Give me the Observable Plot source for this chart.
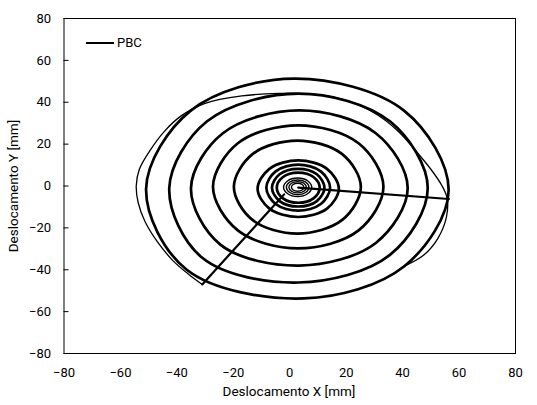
<!DOCTYPE html>
<html>
<head>
<meta charset="utf-8">
<script src="https://cdn.jsdelivr.net/npm/d3@7"></script>
<script src="https://cdn.jsdelivr.net/npm/@observablehq/plot@0.6"></script>
<style>
  body { margin: 0; background: #fff; }
  #wrap { position: relative; width: 537px; height: 405px; font-family: Roboto, "Open Sans", sans-serif; color: #000; }
  #wrap svg { position: absolute; left: 0; top: 0; }
  .lbl { position: absolute; font-size: 13.5px; white-space: nowrap; line-height: 1; }
  #xlabel { left: 289px; top: 385px; transform: translateX(-50%); }
  #ylabel { left: 14px; top: 186px; transform: translate(-50%, -50%) rotate(-90deg); }
  #legend { position: absolute; left: 86px; top: 35px; display: flex; align-items: center; font-size: 13px; }
  #legend .sw { width: 28px; height: 0; border-top: 2px solid #000; margin-right: 3px; }
</style>
</head>
<body>
<div id="wrap">
  <div id="legend"><span class="sw"></span><span>PBC</span></div>
  <div class="lbl" id="xlabel">Deslocamento X [mm]</div>
  <div class="lbl" id="ylabel">Deslocamento Y [mm]</div>
</div>
<script>
// ---- data (mm) ----
const xTicks = [-80, -60, -40, -20, 0, 20, 40, 60, 80];
const yTicks = [-80, -60, -40, -20, 0, 20, 40, 60, 80];
const seriesName = "PBC";

// thick orbit rings (several cycles at each amplitude), points E, NE, N, NW, W, SW, S, SE
const ringA = [[56.3,-2],[40.6,35.9],[1.5,51.3],[-35.2,35.9],[-50.9,-1.2],[-36.6,-39.9],[5,-53.7],[40.6,-38.3]];
const ringB = [[48.9,-1],[35.5,30.9],[3.1,44.1],[-29.3,30.9],[-42.7,-1],[-31,-34.3],[3.1,-46.1],[35.5,-32.9]];
const ringC = [[41.8,-1],[30.5,25.2],[3.4,36.1],[-23.7,25.2],[-35,-1],[-24.6,-28],[3.4,-38],[30.5,-27.2]];
const ringD = [[33.2,-0.4],[24.4,20.4],[3,29],[-18.4,20.4],[-27.2,-0.4],[-18.4,-21.2],[3,-29.8],[24.4,-21.2]];
const ringE = [[25.2,-0.5],[18.6,15.2],[2.7,21.7],[-13.2,15.2],[-19.8,-0.5],[-13.2,-16.2],[2.7,-22.7],[18.6,-16.2]];
const ringF = [[17.4,-1.3],[13.2,8.2],[3,12.2],[-7.2,8.2],[-11.4,-1.3],[-7.2,-10.8],[3,-14.8],[13.2,-10.8]];
const ringG = [[14.3,-0.8],[11,7],[3,10.2],[-5,7],[-8.3,-0.8],[-5,-8.6],[3,-11.8],[11,-8.6]];
const ringH = [[12.3,-0.8],[9.6,5.6],[3,8.2],[-3.6,5.6],[-6.3,-0.8],[-3.6,-7.2],[3,-9.8],[9.6,-7.2]];
const ringI = [[10.6,-0.8],[8.4,4.3],[3,6.4],[-2.4,4.3],[-4.6,-0.8],[-2.4,-5.9],[3,-8],[8.4,-5.9]];
// thin inner rings (small amplitudes)
const ringJ = [[7.8,-0.6],[6.3,2.5],[2.8,3.8],[-0.7,2.5],[-2.2,-0.6],[-0.7,-3.7],[2.8,-5],[6.3,-3.7]];
const ringK = [[6.8,-0.6],[5.6,1.9],[2.8,2.9],[0,1.9],[-1.2,-0.6],[0,-3.1],[2.8,-4.1],[5.6,-3.1]];
const ringL = [[5.9,-0.6],[5,1.3],[2.8,2.1],[0.6,1.3],[-0.3,-0.6],[0.6,-2.5],[2.8,-3.3],[5,-2.5]];
const ringM = [[5,-0.6],[4.4,0.7],[2.8,1.3],[1.2,0.7],[0.6,-0.6],[1.2,-1.9],[2.8,-2.5],[4.4,-1.9]];
// straight transitions
const lineRight = [[3,-0.8],[56.4,-6.2]];
const lineLowerLeft = [[-2,-4],[-31,-47]];
// thin single excursion
const thinArc = [[-31,-47],[-36,-42],[-41.5,-35.5],[-47,-26.5],[-51.3,-17],[-53.7,-8],[-54.4,0],[-53.3,8],[-49.5,17],[-44.5,26],[-38.5,33.5],[-30,39.5],[-17,43],[-4,44.2],[9,43.8],[21,40.5],[31,34],[38.5,26],[44.5,17],[50,8],[54,0],[55.8,-6],[55.5,-15],[52.5,-25],[47.5,-33],[40.6,-38.3]];

// ---- build tables ----
const toRows = (name, pts) => pts.map(([x, y]) => ({ring: name, x, y}));
const thickRows = [["A", ringA], ["B", ringB], ["C", ringC], ["D", ringD], ["E", ringE], ["F", ringF], ["G", ringG], ["H", ringH], ["I", ringI]]
  .flatMap(([n, p]) => toRows(n, p));
const thinRows = [["J", ringJ], ["K", ringK], ["L", ringL], ["M", ringM]].flatMap(([n, p]) => toRows(n, p));
const straightRows = [...toRows("R", lineRight), ...toRows("L", lineLowerLeft)];
const arcRows = toRows("T", thinArc);

const W = 537, H = 405, mL = 63.5, mR = 22, mT = 18, mB = 52;

const chart = Plot.plot({
  width: W, height: H,
  marginLeft: mL, marginRight: mR, marginTop: mT, marginBottom: mB,
  style: {fontFamily: 'Roboto, "Open Sans", sans-serif', fontSize: "13px", color: "#000", background: "transparent", overflow: "visible"},
  x: {domain: [-80, 80]},
  y: {domain: [-80, 80]},
  marks: [
    Plot.axisX({ticks: xTicks, tickSize: 0, tickPadding: 14, label: null, fill: "#000"}),
    Plot.axisY({ticks: yTicks, tickSize: 0, tickPadding: 13, label: null, fill: "#000"}),
    Plot.ruleY(yTicks, {y: d => d, insetRight: W - mL - mR - 5, stroke: "#000", strokeWidth: 1}),
    Plot.line(thickRows, {x: "x", y: "y", z: "ring", curve: "catmull-rom-closed", stroke: "#000", strokeWidth: 2.7}),
    Plot.line(thinRows, {x: "x", y: "y", z: "ring", curve: "catmull-rom-closed", stroke: "#000", strokeWidth: 1.4}),
    Plot.line(straightRows, {x: "x", y: "y", z: "ring", stroke: "#000", strokeWidth: 2.2}),
    Plot.line(arcRows, {x: "x", y: "y", curve: "catmull-rom", stroke: "#000", strokeWidth: 1.3}),
    Plot.frame({stroke: "#000", strokeWidth: 1})
  ]
});
document.getElementById("wrap").prepend(chart);
</script>
</body>
</html>
